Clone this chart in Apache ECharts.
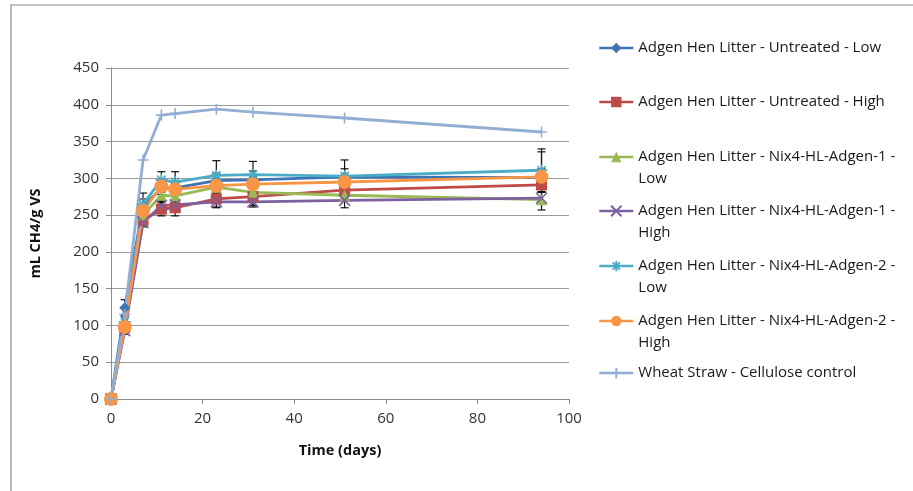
<!DOCTYPE html>
<html><head><meta charset="utf-8">
<script src="https://cdn.jsdelivr.net/npm/echarts@6/dist/echarts.min.js"></script>
<style>html,body{margin:0;padding:0;background:#fff}#c{width:913px;height:491px}</style>
</head><body><div id="c"></div>
<script>
var days = [0, 3, 7, 11, 14, 23, 31, 51, 94];
var seriesNames = [
  'Adgen Hen Litter - Untreated - Low',
  'Adgen Hen Litter - Untreated - High',
  'Adgen Hen Litter - Nix4-HL-Adgen-1 - Low',
  'Adgen Hen Litter - Nix4-HL-Adgen-1 - High',
  'Adgen Hen Litter - Nix4-HL-Adgen-2 - Low',
  'Adgen Hen Litter - Nix4-HL-Adgen-2 - High',
  'Wheat Straw - Cellulose control'
];
var untreatedLow   = [0, 124, 262, 286, 287, 297, 298, 302, 301];
var untreatedHigh  = [0,  97, 243, 258, 260, 272, 275, 284, 291];
var nix1Low        = [0, 100, 250, 277, 276, 288, 281, 277, 271];
var nix1High       = [0,  93, 240, 263, 264, 268, 268, 270, 273];
var nix2Low        = [0, 105, 265, 298, 295, 304, 305, 303, 311];
var nix2High       = [0,  98, 256, 289, 285, 290, 292, 295, 302];
var wheatStraw     = [0, 115, 325, 386, 388, 394, 390, 382, 363];

var errUntreatedLow  = [0, 11, 10, 8, 8, 10, 12, 23, 12];
var errUntreatedHigh = [0, 5, 6, 9, 11, 12, 12, 8, 10];
var errNix1Low       = [0, 5, 8, 8, 8, 8, 8, 6, 14];
var errNix1High      = [0, 5, 6, 6, 6, 7, 7, 10, 8];
var errNix2Low       = [0, 8, 15, 11, 14, 20, 18, 10, 29];
var errNix2High      = [0, 6, 8, 8, 8, 10, 10, 8, 34];

var yTicks = [0, 50, 100, 150, 200, 250, 300, 350, 400, 450];
var xTicks = [0, 20, 40, 60, 80, 100];

var values = [untreatedLow, untreatedHigh, nix1Low, nix1High, nix2Low, nix2High, wheatStraw];
var errs = [errUntreatedLow, errUntreatedHigh, errNix1Low, errNix1High, errNix2Low, errNix2High, null];
var colors = ['#3F73B8', '#BE4B48', '#98B954', '#7D60A0', '#4BACC6', '#F79646', '#92AED4'];
var symbols = ['diamond', 'rect', 'triangle',
  'path://M0,0L10,10M10,0L0,10',
  'path://M0,5L10,5M5,0L5,10M1.5,1.5L8.5,8.5M8.5,1.5L1.5,8.5',
  'circle',
  'path://M0,5L10,5M5,0L5,10'];
var sizes = [11, 11, 11, 11, 12, 14, 11];
var stroked = [false, false, false, true, true, false, true];
var wrapped = [false, false, true, true, true, true, false];
var legendCenters = [48, 102, 157, 211, 266, 321, 373];

var font = '"Open Sans", "Liberation Sans", sans-serif';
var series = [];
var legends = [];
seriesNames.forEach(function (name, i) {
  var itemStyle = stroked[i]
    ? { color: '#fff', borderColor: colors[i], borderWidth: 1.6 }
    : { color: colors[i], borderWidth: 0 };
  series.push({
    name: name, type: 'line', z: 3,
    data: days.map(function (d, j) { return [d, values[i][j]]; }),
    symbol: symbols[i], symbolSize: sizes[i], showSymbol: true,
    lineStyle: { color: colors[i], width: 2.8 },
    itemStyle: itemStyle,
    emphasis: { disabled: true },
    animation: false
  });
  if (errs[i]) {
    series.push({
      name: name + ' err', type: 'custom', z: 2,
      data: days.map(function (d, j) { return [d, values[i][j] - errs[i][j], values[i][j] + errs[i][j]]; }).filter(function (r, j) { return errs[i][j] > 0; }),
      renderItem: function (params, api) {
        var lo = api.coord([api.value(0), api.value(1)]);
        var hi = api.coord([api.value(0), api.value(2)]);
        var w = 4;
        var st = { stroke: '#111', lineWidth: 1.2 };
        return { type: 'group', children: [
          { type: 'line', shape: { x1: lo[0], y1: lo[1], x2: hi[0], y2: hi[1] }, style: st },
          { type: 'line', shape: { x1: lo[0] - w, y1: lo[1], x2: lo[0] + w, y2: lo[1] }, style: st },
          { type: 'line', shape: { x1: hi[0] - w, y1: hi[1], x2: hi[0] + w, y2: hi[1] }, style: st }
        ]};
      },
      encode: { x: 0, y: [1, 2] },
      silent: true, animation: false
    });
  }
  var lh = 21.5;
  var label = name;
  var boxH = lh;
  if (wrapped[i]) {
    var k = name.lastIndexOf(' - ');
    label = ' \n' + name.slice(0, k + 2) + '\n' + name.slice(k + 3);
    boxH = lh * 3;
  }
  legends.push({
    show: true, orient: 'vertical', left: 598,
    top: legendCenters[i] - boxH / 2,
    padding: 0, itemWidth: 34, itemHeight: 13, itemGap: 0,
    data: [name],
    lineStyle: { width: 2.6 },
    formatter: (function (t) { return function () { return t; }; })(label),
    selectedMode: false,
    textStyle: { fontFamily: font, fontSize: 15, color: '#1a1a1a', lineHeight: lh }
  });
});

var chart = echarts.init(document.getElementById('c'), null, { renderer: 'canvas' });
chart.setOption({
  backgroundColor: '#fff',
  animation: false,
  legend: legends,
  graphic: [{
    type: 'rect', silent: true, z: 0,
    shape: { x: 11, y: 5, width: 940, height: 520 },
    style: { fill: 'none', stroke: '#8a8a8a', lineWidth: 1.2 }
  }],
  grid: { left: 111, right: 344, top: 68, bottom: 92 },
  xAxis: {
    type: 'value', min: xTicks[0], max: xTicks[xTicks.length - 1], interval: 20,
    name: 'Time (days)', nameLocation: 'middle', nameGap: 44,
    nameTextStyle: { fontFamily: font, fontSize: 14.5, fontWeight: 'bold', color: '#111' },
    axisLine: { show: true, lineStyle: { color: '#8c8c8c', width: 1 } },
    axisTick: { show: true, length: 5, lineStyle: { color: '#8c8c8c' } },
    axisLabel: { fontFamily: font, fontSize: 15, color: '#333', margin: 12 },
    splitLine: { show: false }
  },
  yAxis: {
    type: 'value', min: yTicks[0], max: yTicks[yTicks.length - 1], interval: 50,
    name: 'mL CH4/g VS', nameLocation: 'middle', nameGap: 68, nameRotate: 90,
    nameTextStyle: { fontFamily: font, fontSize: 14.5, fontWeight: 'bold', color: '#111' },
    axisLine: { show: true, lineStyle: { color: '#8c8c8c', width: 1 } },
    axisTick: { show: true, length: 5, lineStyle: { color: '#8c8c8c' } },
    axisLabel: { fontFamily: font, fontSize: 15, color: '#333', margin: 12 },
    splitLine: { show: true, lineStyle: { color: '#9a9a9a', width: 1 } }
  },
  series: series
});
</script></body></html>
